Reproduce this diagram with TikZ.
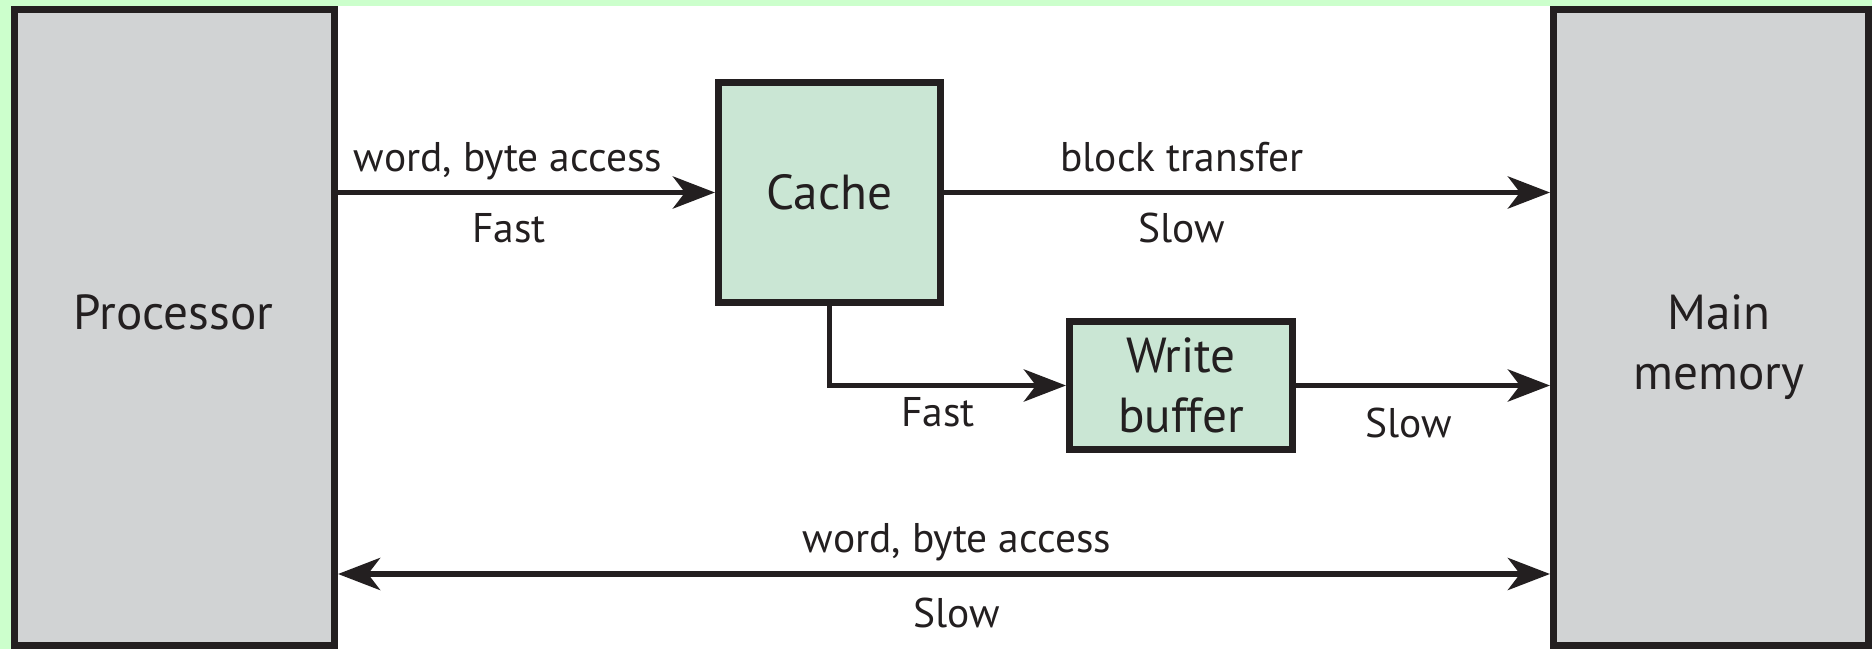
\documentclass[tikz,border=0pt]{standalone}
\usepackage{fontspec}
\setmainfont{PT Sans}
\usetikzlibrary{arrows.meta}

\definecolor{bggreen}{RGB}{204,255,204}
\definecolor{boxgray}{RGB}{209,211,212}
\definecolor{cachegreen}{RGB}{202,230,212}
\definecolor{ink}{RGB}{35,31,32}

\begin{document}
\begin{tikzpicture}[
    >={Stealth[length=0.42cm, width=0.32cm, inset=0.12cm]},
    box/.style={draw=ink, line width=2pt, inner sep=0pt, text=ink},
    big/.style={text=ink, inner sep=0pt, font=\fontsize{14}{17}\selectfont},
    lbl/.style={text=ink, inner sep=0pt, anchor=base, font=\fontsize{11.8}{14}\selectfont},
    arr/.style={draw=ink, line width=1.7pt, ->}
  ]
    \useasboundingbox (0,0) rectangle (18.72,6.49);
    \clip (0,0) rectangle (18.72,6.49);
    \fill[bggreen] (0,0) rectangle (18.72,6.49);
    \fill[white] (3.3,0) rectangle (15.6,6.43);

    \draw
    (1.745, 3.215) node[box, fill=boxgray, minimum width=3.2cm, minimum height=6.36cm](proc){}
    (17.11, 3.215) node[box, fill=boxgray, minimum width=3.15cm, minimum height=6.36cm](mem){}
    (8.295, 4.565) node[box, big, fill=cachegreen, minimum width=2.22cm, minimum height=2.2cm](cache){Cache}
    (11.81, 2.635) node[box, big, fill=cachegreen, minimum width=2.23cm, minimum height=1.28cm, align=center](wbuf){Write\\buffer};

    \draw
    (1.735, 3.19) node[big, anchor=base](proctxt){Processor}
    (17.19, 3.55) node[big, anchor=north, align=center](memtxt){Main\\memory};

    % labels on the links
    \draw
    (5.08, 4.77) node[lbl](wordtop){word, byte access}
    (5.09, 4.06) node[lbl](fasttop){Fast}
    (11.82, 4.77) node[lbl](blocktr){block transfer}
    (11.82, 4.06) node[lbl](slowtop){Slow}
    (9.38, 2.22) node[lbl](fastwb){Fast}
    (14.09, 2.11) node[lbl](slowwb){Slow}
    (9.57, 0.97) node[lbl](wordbot){word, byte access}
    (9.57, 0.22) node[lbl](slowbot){Slow};

    \coordinate (bus) at (9.5, 0.75);

    \draw[arr] (cache.west -| proc.east) -- (cache.west);
    \draw[arr] (cache.east) -- (cache.east -| mem.west);
    \draw[arr] (cache.south) |- (wbuf.west);
    \draw[arr] (wbuf.east) -- (wbuf.east -| mem.west);
    \draw[arr, <->] (bus -| proc.east) -- (bus -| mem.west);

\end{tikzpicture}
\end{document}
